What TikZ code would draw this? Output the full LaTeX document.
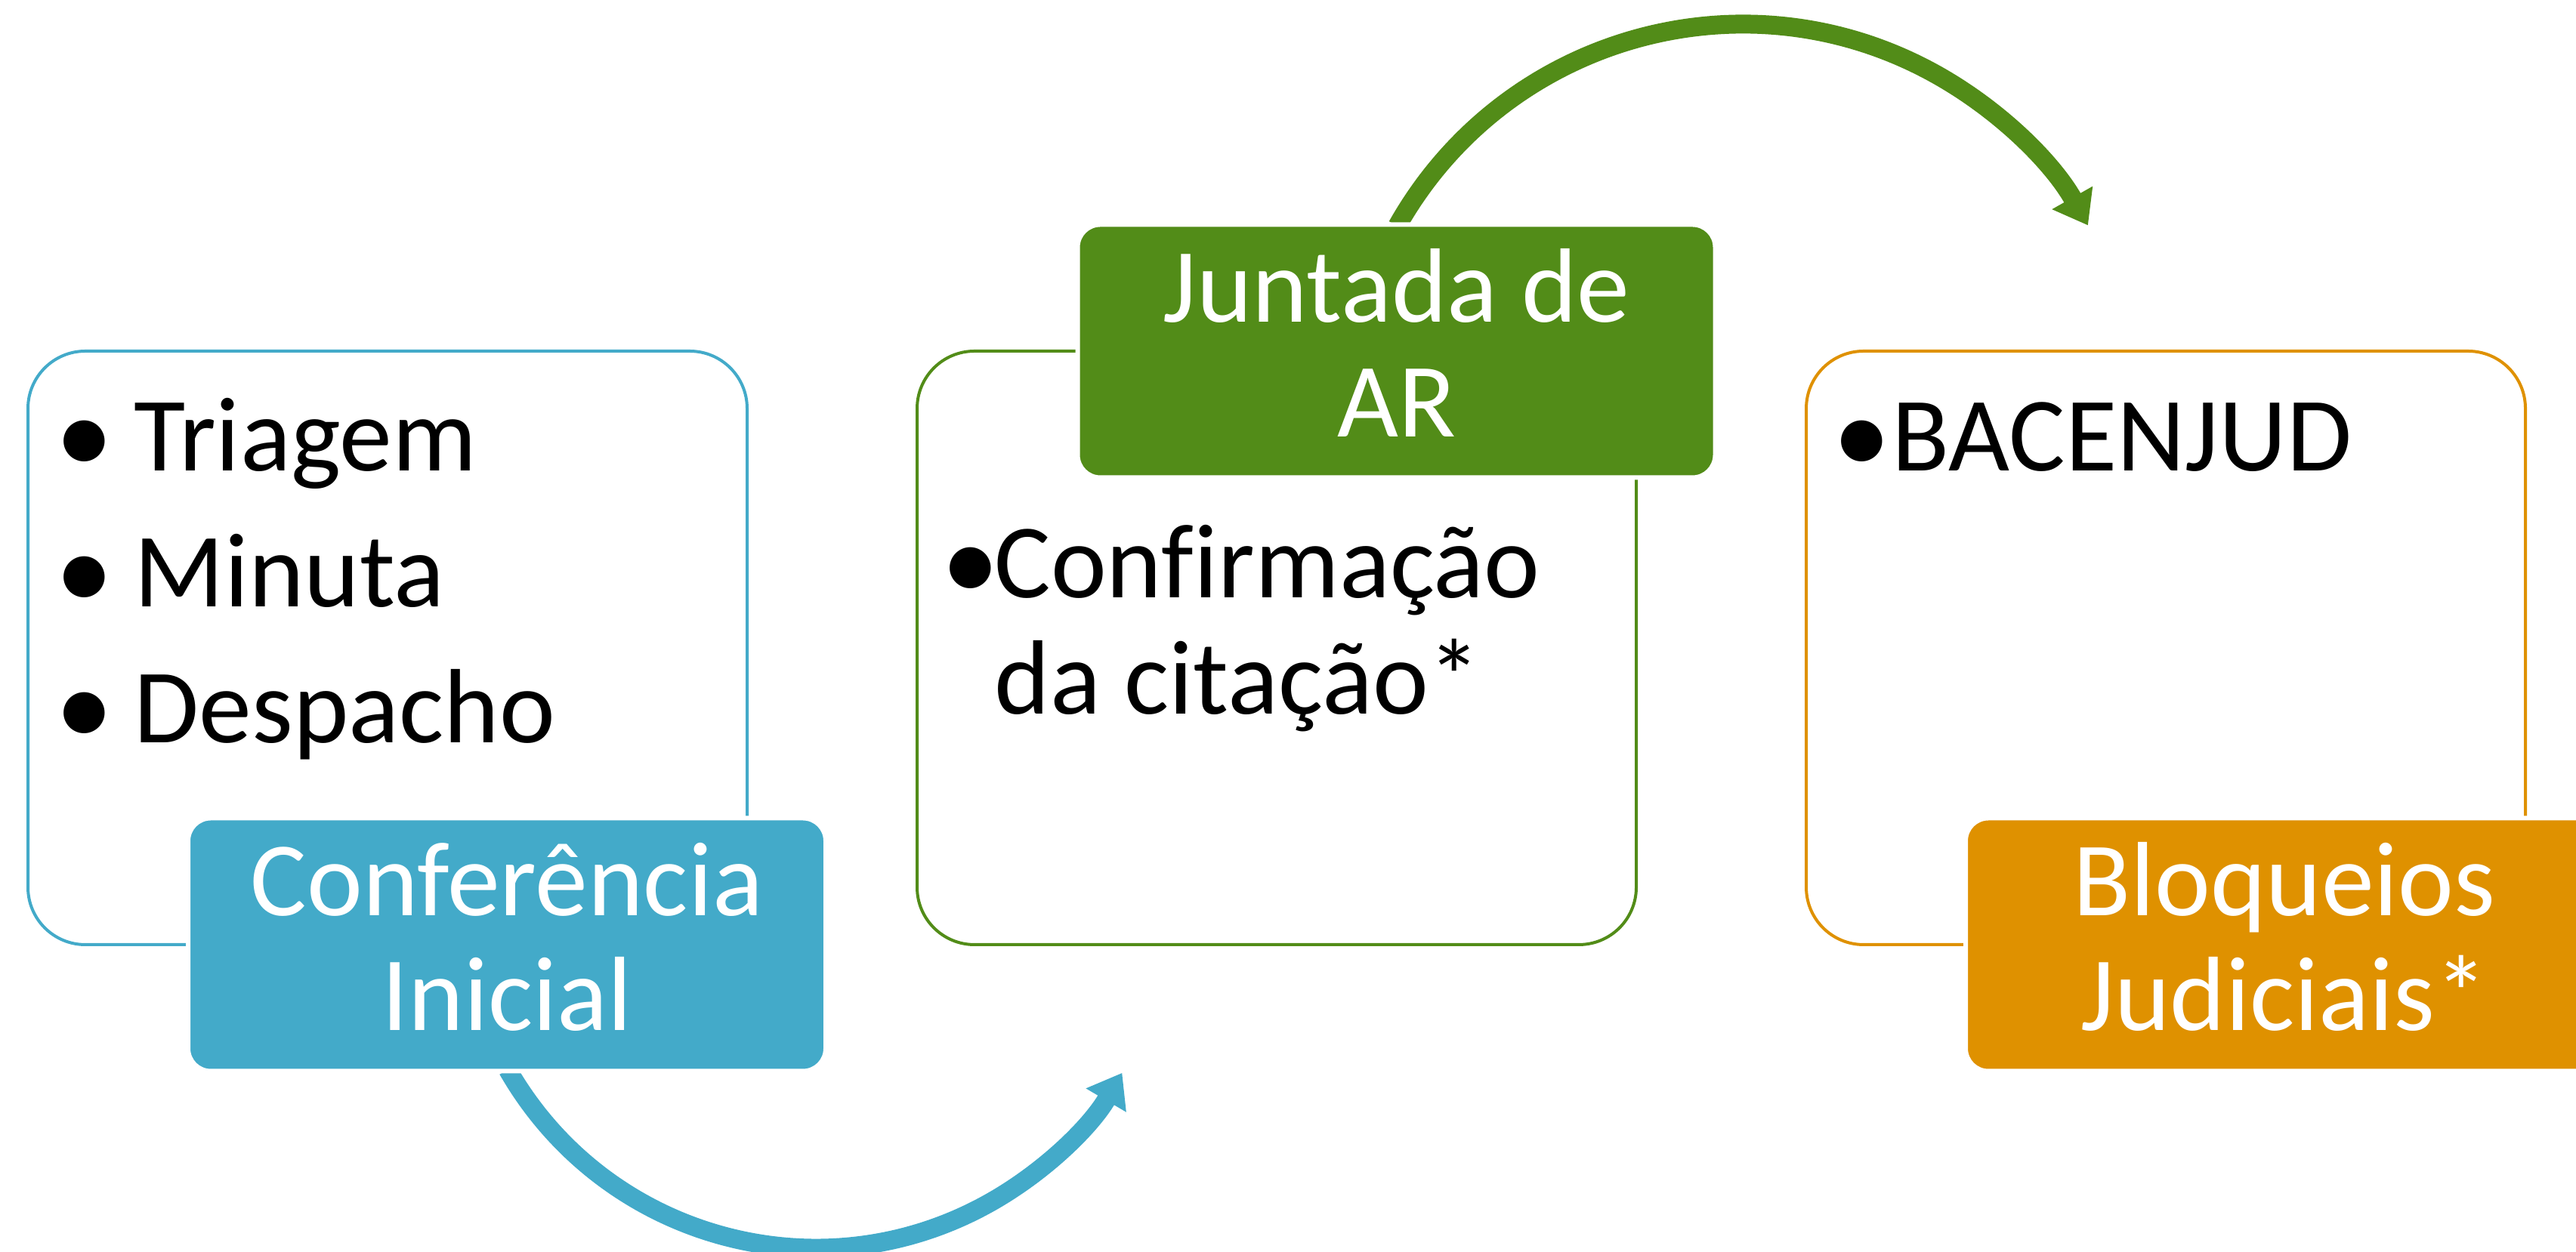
\documentclass[tikz,border=0pt]{standalone}
\usepackage{fontspec}
\usepackage{graphicx}
\setmainfont{Carlito}[Ligatures=NoCommon]
\usetikzlibrary{arrows.meta}

\definecolor{aqua}{RGB}{67,170,201}
\definecolor{leaf}{RGB}{82,140,24}
\definecolor{amber}{RGB}{223,145,0}
\newcommand{\cardfont}{\fontsize{39.8}{48}\selectfont}
% marcador centrado a #1 da origem do texto
\newcommand{\marca}[1]{\llap{\makebox[#1][l]{\makebox[0pt]{\raisebox{-0.04cm}{\scalebox{1.1}{•}}}}}}

\tikzset{
  listbox/.style={draw=#1, line width=0.04cm, rounded corners=0.76cm,
    minimum width=9.52cm, minimum height=7.86cm, inner sep=0pt},
  titlebox/.style={fill=#1, draw=white, line width=0.06cm, rounded corners=0.3cm,
    minimum width=8.44cm, minimum height=3.35cm, inner sep=0pt},
  itemtxt/.style={font=\cardfont, inner sep=0pt, anchor=base west},
  titletxt/.style={font=\cardfont, text=white, inner sep=0pt, anchor=base},
  flow/.style={draw=#1, line width=0.25cm, -{Triangle[length=0.42cm, width=0.59cm]}}
}

\begin{document}
\begin{tikzpicture}
  \useasboundingbox (0,0) rectangle (34.10,16.58);

  % setas circulares
  \coordinate (giroA) at (10.80,4.75);
  \coordinate (giroB) at (23.07,11.01);
  \draw[flow=aqua] (giroA) ++(209.8:4.70) arc[start angle=209.8, end angle=329.6, radius=4.70];
  \draw[flow=leaf] (giroB) ++(150.6:5.25) arc[start angle=150.6, end angle=29.5, radius=5.25];

  % caixas das listas
  \node[listbox=aqua] (lista1) at (5.13,8.00) {};
  \node[listbox=leaf] (lista2) at (16.90,8.00) {};
  \node[listbox=amber] (lista3) at (28.67,8.00) {};

  % caixas dos titulos
  \node[titlebox=aqua] (conf) at (6.71,4.07) {};
  \node[titlebox=leaf] (juntada) at (18.485,11.93) {};
  \node[titlebox=amber] (bloq) at (30.24,4.07) {};

  \node[titletxt, yshift=0.38cm] (conf1) at (conf.center) {Conferência};
  \node[titletxt, yshift=-1.14cm] (conf2) at (conf.center) {Inicial};
  \node[titletxt, yshift=0.38cm] (juntada1) at (juntada.center) {Juntada de};
  \node[titletxt, yshift=-1.14cm] (juntada2) at (juntada.center) {AR};
  \node[titletxt, yshift=0.38cm] (bloq1) at (bloq.center) {Bloqueios};
  \node[titletxt, yshift=-1.14cm] (bloq2) at (bloq.center) {Judiciais*};

  % itens
  \node[itemtxt] (triagem) at (1.77,10.34) {\marca{0.66cm}Triagem};
  \node[itemtxt] (minuta) at (1.77,8.54) {\marca{0.66cm}Minuta};
  \node[itemtxt] (despacho) at (1.77,6.74) {\marca{0.66cm}Despacho};
  \node[itemtxt] (citacao1) at (13.16,8.66) {\marca{0.32cm}Confirmação};
  \node[itemtxt] (citacao2) at (13.16,7.12) {da citação*};
  \node[itemtxt] (bacen) at (25.04,10.34) {\marca{0.40cm}BACENJUD};
\end{tikzpicture}
\end{document}
